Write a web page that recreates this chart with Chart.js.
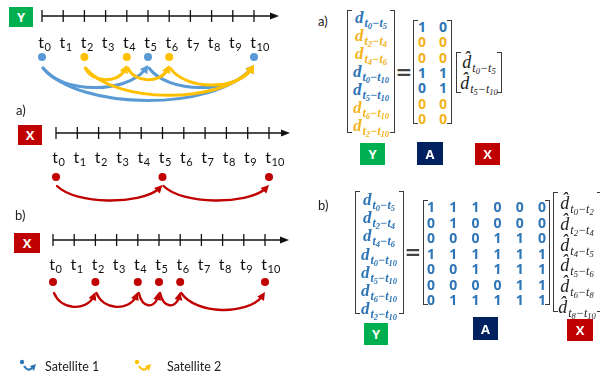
<!DOCTYPE html>
<html>
<head>
<meta charset="utf-8">
<script src="https://cdn.jsdelivr.net/npm/chart.js@4.4.1/dist/chart.umd.min.js"></script>
<style>
  body { margin: 0; background: #fff; }
  #fig { position: relative; width: 600px; height: 376px; overflow: hidden; background: #fff; }
  #fig canvas { position: absolute; left: 0; }
  .box { position: absolute; color: #fff; font: bold 13px "Open Sans", sans-serif; display: flex; align-items: center; justify-content: center; }
  .lbl { position: absolute; font: 13px Lato, sans-serif; color: #222; transform: translateY(-50%); }
  .br { position: absolute; border: 1.6px solid #3b3b3b; width: 5px; box-sizing: border-box; }
  .ent { position: absolute; transform: translate(-50%, -50%); white-space: nowrap; line-height: 1; }
  .obs { font-family: "Liberation Serif", serif; font-weight: bold; font-style: italic; }
  .est { font-family: "Liberation Serif", serif; font-style: italic; color: #222; }
  .dv { font-size: 17px; }
  .est .dv { font-size: 18px; }
  .sb { font-size: 12px; position: relative; top: 4px; margin-left: 1px; }
  .sb sub { font-size: 8.5px; vertical-align: -2px; }
  .num { font-family: "Open Sans", sans-serif; font-weight: 700; font-size: 14px; }
  .eq { position: absolute; font: bold 20px "DejaVu Sans", sans-serif; color: #444; transform: translate(-50%, -50%); }
</style>
</head>
<body>
<div id="fig">
  <canvas id="timeY" width="300" height="110" style="top:0px"></canvas>
  <canvas id="timeXa" width="300" height="110" style="top:100px"></canvas>
  <canvas id="timeXb" width="300" height="176" style="top:200px"></canvas>
</div>
<script>
// TIME AXIS
const timeTicks = [0, 1, 2, 3, 4, 5, 6, 7, 8, 9, 10]

// OBSERVATIONS (Y) - epochs seen by each satellite and the differences taken
const sat1Times = [0, 5, 10]
const sat2Times = [2, 4, 6]
const sat1Links = [[0, 5], [5, 10], [0, 10]]
const sat2Links = [[2, 4], [4, 6], [6, 10], [2, 10]]

// ESTIMATED INTERVALS (X)
const xaTimes = [0, 5, 10]
const xaLinks = [[0, 5], [5, 10]]
const xbTimes = [0, 2, 4, 5, 6, 10]
const xbLinks = [[0, 2], [2, 4], [4, 5], [5, 6], [6, 10]]

// MATRICES
const yPairs = [[0, 5], [2, 4], [4, 6], [0, 10], [5, 10], [6, 10], [2, 10]]
const ySatellite = [1, 2, 2, 1, 1, 2, 2]
const aMatrixA = [
  [1, 0],
  [0, 0],
  [0, 0],
  [1, 1],
  [0, 1],
  [0, 0],
  [0, 0],
]
const xPairsA = [[0, 5], [5, 10]]
const aMatrixB = [
  [1, 1, 1, 0, 0, 0],
  [0, 1, 0, 0, 0, 0],
  [0, 0, 0, 1, 1, 0],
  [1, 1, 1, 1, 1, 1],
  [0, 0, 1, 1, 1, 1],
  [0, 0, 0, 0, 1, 1],
  [0, 1, 1, 1, 1, 1],
]
const xPairsB = [[0, 2], [2, 4], [4, 5], [5, 6], [6, 8], [8, 10]]

const legendLabels = ["Satellite 1", "Satellite 2"]

// COLOURS
const BLUE = "#5B9BD5"
const BLUE_TEXT = "#2E75B6"
const YELLOW = "#FFC000"
const YELLOW_TEXT = "#F2B31E"
const RED = "#C00000"
const GREEN = "#00B050"
const NAVY = "#002060"

/* ---------------------------------------------- */
/*                 TIMELINE PLUGIN                */
/* ---------------------------------------------- */
function drawLink(ctx, xs, yDot, from, to, color, o) {
  const x0 = xs.getPixelForValue(from) + 1
  const x1 = xs.getPixelForValue(to)
  const ya = yDot + o.startOff
  const yb = yDot + o.endOff
  const bottom = yDot + o.depthBase + o.depthSlope * (to - from)
  const w = x1 - x0
  const c = (8 * bottom - ya - yb) / 6
  const c1x = x0 + w * 0.18
  const c2x = x1 - w * 0.18
  // direction at arrow tip
  let dx = x1 - c2x, dy = yb - c
  const len = Math.hypot(dx, dy)
  dx /= len; dy /= len
  const L = o.headLen, H = o.headHalf
  const bx = x1 - dx * L * 0.7, by = yb - dy * L * 0.7

  ctx.save()
  ctx.strokeStyle = color
  ctx.fillStyle = color
  ctx.lineWidth = o.lineWidth
  ctx.lineCap = "round"
  ctx.beginPath()
  ctx.moveTo(x0, ya)
  ctx.bezierCurveTo(c1x, c, c2x + (bx - x1), c, bx, by)
  ctx.stroke()
  ctx.beginPath()
  ctx.moveTo(x1, yb)
  ctx.lineTo(x1 - dx * L - dy * H, yb - dy * L + dx * H)
  ctx.lineTo(x1 - dx * L + dy * H, yb - dy * L - dx * H)
  ctx.closePath()
  ctx.fill()
  ctx.restore()
}

function drawLegendIcon(ctx, x, y, color) {
  ctx.save()
  ctx.fillStyle = color
  ctx.strokeStyle = color
  ctx.lineWidth = 2.2
  ctx.beginPath()
  ctx.arc(x + 2, y - 5, 2.2, 0, Math.PI * 2)
  ctx.fill()
  ctx.beginPath()
  ctx.moveTo(x + 4, y - 1)
  ctx.quadraticCurveTo(x + 8, y + 5, x + 12, y + 1)
  ctx.stroke()
  ctx.beginPath()
  ctx.moveTo(x + 16, y - 3)
  ctx.lineTo(x + 10, y - 1)
  ctx.lineTo(x + 14, y + 4)
  ctx.closePath()
  ctx.fill()
  ctx.restore()
}

const timelinePlugin = {
  id: "timeline",
  beforeDatasetsDraw(chart, args, opts) {
    const ctx = chart.ctx
    const xs = chart.scales.x
    const y0 = chart.scales.y.getPixelForValue(0)
    const xStart = xs.getPixelForValue(timeTicks[0])
    const xEnd = xs.getPixelForValue(timeTicks[timeTicks.length - 1]) + opts.arrowExtra
    ctx.save()
    ctx.strokeStyle = "#111"
    ctx.fillStyle = "#111"
    ctx.lineWidth = 1.7
    ctx.beginPath()
    ctx.moveTo(xStart, y0)
    ctx.lineTo(xEnd - 5, y0)
    ctx.stroke()
    ctx.beginPath()
    ctx.moveTo(xEnd, y0)
    ctx.lineTo(xEnd - 9, y0 - 3.5)
    ctx.lineTo(xEnd - 9, y0 + 3.5)
    ctx.closePath()
    ctx.fill()

    ctx.lineWidth = 1.3
    ctx.textBaseline = "alphabetic"
    timeTicks.forEach((t) => {
      const x = xs.getPixelForValue(t)
      ctx.beginPath()
      ctx.moveTo(x, y0 - 6)
      ctx.lineTo(x, y0 + 6)
      ctx.stroke()
      ctx.font = "16px Lato"
      ctx.textAlign = "right"
      ctx.fillText("t", x + 2, y0 + opts.labelOff)
      ctx.font = "11px Lato"
      ctx.textAlign = "left"
      ctx.fillText(String(t), x + 2.5, y0 + opts.labelOff + 3)
    })
    ctx.restore()
  },
  afterDatasetsDraw(chart, args, opts) {
    const ctx = chart.ctx
    const xs = chart.scales.x
    const yDot = chart.scales.y.getPixelForValue(-1)
    chart.data.datasets.forEach((ds) => {
      ds.links.forEach(([from, to]) => drawLink(ctx, xs, yDot, from, to, ds.backgroundColor, opts))
    })
    if (opts.legend) {
      const ly = opts.legendY
      const colors = [BLUE_TEXT, YELLOW]
      const xsLegend = [20, 135]
      legendLabels.forEach((label, i) => {
        drawLegendIcon(ctx, xsLegend[i], ly, colors[i])
        ctx.save()
        ctx.font = "12.5px Lato"
        ctx.fillStyle = "#222"
        ctx.textBaseline = "middle"
        ctx.fillText(label, xsLegend[i] + (i ? 32 : 25), ly)
        ctx.restore()
      })
    }
  },
}

function pointsDataset(times, links, color) {
  return {
    data: times.map((t) => ({ x: t, y: -1 })),
    links: links,
    backgroundColor: color,
    borderWidth: 0,
    pointRadius: 4,
    clip: false,
  }
}

function timelineChart(id, datasets, padding, look) {
  return new Chart(document.getElementById(id), {
    type: "scatter",
    data: { datasets: datasets },
    options: {
      responsive: false,
      animation: false,
      events: [],
      layout: { padding: padding },
      scales: {
        x: { type: "linear", min: timeTicks[0], max: timeTicks[timeTicks.length - 1], display: false },
        y: { type: "linear", min: -1, max: 0, display: false },
      },
      plugins: { legend: { display: false }, tooltip: { enabled: false }, timeline: look },
    },
    plugins: [timelinePlugin],
  })
}

timelineChart(
  "timeY",
  [pointsDataset(sat1Times, sat1Links, BLUE), pointsDataset(sat2Times, sat2Links, YELLOW)],
  { left: 42, right: 46, top: 16, bottom: 53 },
  { arrowExtra: 25, labelOff: 32, startOff: 11, endOff: 8, depthBase: 17, depthSlope: 2.6, lineWidth: 3, headLen: 8, headHalf: 4.5 }
)
timelineChart(
  "timeXa",
  [pointsDataset(xaTimes, xaLinks, RED)],
  { left: 56, right: 31, top: 33, bottom: 33 },
  { arrowExtra: 21, labelOff: 30, startOff: 9, endOff: 8, depthBase: 23, depthSlope: 0, lineWidth: 2.4, headLen: 8, headHalf: 4 }
)
timelineChart(
  "timeXb",
  [pointsDataset(xbTimes, xbLinks, RED)],
  { left: 53, right: 35, top: 40, bottom: 94 },
  { arrowExtra: 24, labelOff: 30, startOff: 11, endOff: 10, depthBase: 21, depthSlope: 1.6, lineWidth: 2.4, headLen: 8, headHalf: 4, legend: true, legendY: 167 }
)

/* ---------------------------------------------- */
/*                 MATRIX EQUATIONS               */
/* ---------------------------------------------- */
const fig = document.getElementById("fig")

function add(cls, html, css) {
  const el = document.createElement("div")
  el.className = cls
  el.innerHTML = html
  Object.assign(el.style, css)
  fig.appendChild(el)
  return el
}

function box(text, color, x, y, w, h) {
  add("box", text, { left: x + "px", top: y + "px", width: w + "px", height: h + "px", background: color })
}

function bracket(l, t, r, b) {
  const h = b - t + "px"
  add("br", "", { left: l + "px", top: t + "px", height: h, borderRight: "none" })
  add("br", "", { left: r - 5 + "px", top: t + "px", height: h, borderLeft: "none" })
}

function dTerm([a, b], hat) {
  return `<span class="dv">${hat ? "d\u0302" : "d"}</span><span class="sb">t<sub>${a}</sub>\u2212t<sub>${b}</sub></span>`
}

function entry(cls, html, cx, cy, color) {
  add("ent " + cls, html, { left: cx + "px", top: cy + "px", color: color || "" })
}

function satColor(s) { return s === 1 ? BLUE_TEXT : YELLOW_TEXT }

// left-hand labels
box("Y", GREEN, 9, 7, 24, 20)
box("X", RED, 18, 125, 24, 20)
box("X", RED, 14, 233, 26, 20)
add("lbl", "a)", { left: "16px", top: "110px" })
add("lbl", "b)", { left: "15px", top: "215px" })

// a)
add("lbl", "a)", { left: "318px", top: "21px" })
bracket(347, 10, 395, 133)
yPairs.forEach((p, i) => entry("obs", dTerm(p), 371, 18 + i * 18, satColor(ySatellite[i])))
add("eq", "=", { left: "404px", top: "72px" })
bracket(413, 20, 452, 124)
aMatrixA.forEach((row, i) => row.forEach((v, j) => entry("num", v, 422 + j * 21, 27 + i * 15.3, satColor(ySatellite[i]))))
bracket(456, 52, 502, 93)
xPairsA.forEach((p, i) => entry("est", dTerm(p, true), 479, 62 + i * 21))
box("Y", GREEN, 360, 143, 25, 22)
box("A", NAVY, 417, 142, 26, 23)
box("X", RED, 475, 143, 25, 22)

// b)
add("lbl", "b)", { left: "318px", top: "205px" })
bracket(355, 191, 404, 314)
yPairs.forEach((p, i) => entry("obs", dTerm(p), 379, 200 + i * 18.2, BLUE_TEXT))
add("eq", "=", { left: "413px", top: "252px" })
bracket(423, 200, 550, 305)
aMatrixB.forEach((row, i) => row.forEach((v, j) => entry("num", v, 431 + j * 22.2, 207 + i * 15.5, BLUE_TEXT)))
bracket(553, 192, 602, 312)
xPairsB.forEach((p, i) => entry("est", dTerm(p, true), 577, 203 + i * 20.8))
box("Y", GREEN, 364, 323, 24, 22)
box("A", NAVY, 473, 317, 25, 23)
box("X", RED, 567, 319, 26, 22)
</script>
</body>
</html>
